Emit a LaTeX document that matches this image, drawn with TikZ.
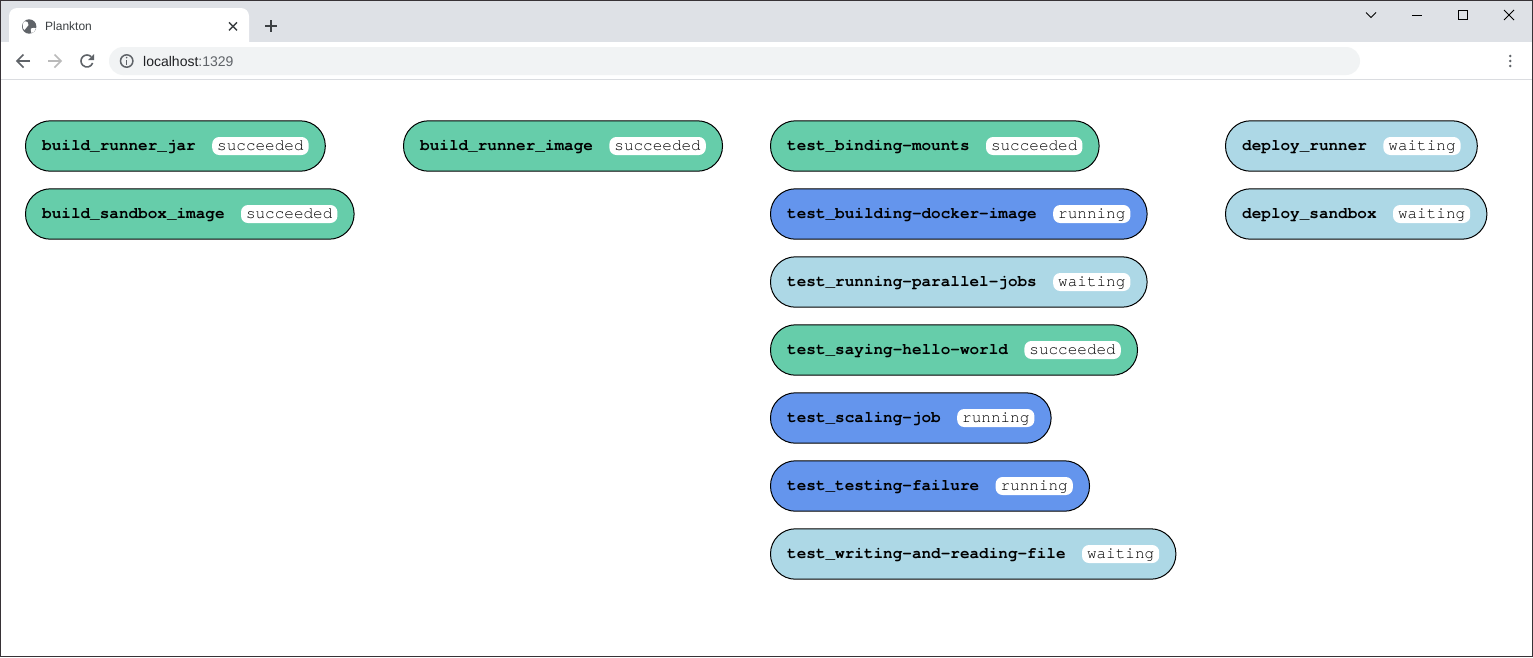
\documentclass[tikz,border=0pt]{standalone}
\usepackage{fontspec}
\newfontfamily\monofont[Ligatures=CommonOff]{TeX Gyre Cursor}
\newfontfamily\uifont{Liberation Sans}
\usetikzlibrary{fit,backgrounds}
\definecolor{jgreen}{RGB}{102,205,170}
\definecolor{jblue}{RGB}{100,149,237}
\definecolor{jlight}{RGB}{173,216,230}
\definecolor{chromebar}{RGB}{222,225,230}
\definecolor{omnibox}{RGB}{241,243,244}
\definecolor{icongray}{RGB}{95,99,104}
\definecolor{icondis}{RGB}{186,186,186}
\definecolor{tabtext}{RGB}{60,64,67}
\definecolor{urltext}{RGB}{32,33,36}
\definecolor{sepline}{RGB}{218,220,224}
\definecolor{framecol}{RGB}{55,50,54}
\tikzset{
  jobname/.style={font=\monofont\bfseries\fontsize{16}{16}\selectfont, inner sep=0pt,
    text height=11pt, text depth=3pt, anchor=base west},
  jobstatus/.style={font=\monofont\fontsize{16}{16}\selectfont, fill=white, rounded corners=7pt,
    inner xsep=5pt, inner ysep=0pt, minimum height=18pt, text height=11pt, text depth=3pt,
    anchor=base west},
  pill/.style={draw=black, line width=1pt, rounded corners=25pt, inner xsep=16.5pt, inner ysep=16pt},
  icon/.style={draw=icongray, line width=1.6pt},
  winctl/.style={draw=black, line width=1pt},
  uitext/.style={inner sep=0pt, anchor=base west},
}
\newcommand\job[6]{%
  \node[jobname] (#1n) at (#2+17,#3+4) {#4};
  \node[jobstatus] (#1s) at ([xshift=16pt]#1n.base east) {#5};
  \begin{scope}[on background layer]
    \node[pill, fill=#6, fit=(#1n)(#1s)] (#1) {};
  \end{scope}
}
\begin{document}
\begin{tikzpicture}[x=1pt,y=-1pt]
\useasboundingbox (0,0) rectangle (1533,657);
\begin{scope}[on background layer]
  % page
  \fill[white] (0,0) rectangle (1533,657);
  % title bar
  \fill[chromebar] (0,0) rectangle (1533,42);
  % tab
  \fill[white] (9,43) -- (9,16) arc[start angle=180, end angle=270, radius=8]
     -- (241,8) arc[start angle=270, end angle=360, radius=8] -- (249,43) -- cycle;
  % toolbar
  \fill[white] (0,42) rectangle (1533,79);
  \draw[sepline, line width=1pt] (0,79.5) -- (1533,79.5);
  \fill[omnibox, rounded corners=14pt] (109,47) rectangle (1360,75);
  % frame
  \draw[framecol, line width=1pt] (0.5,0.5) rectangle (1532.5,656.5);
\end{scope}

% tab contents
\fill[icongray] (29.2,26.5) circle[radius=7.2];
\fill[white] (24,21.5) .. controls (27,21) and (29,22.5) .. (28.5,25)
   .. controls (28,27) and (25.5,27.5) .. (24.5,30) .. controls (22.5,28.5) and (22,25) .. cycle;
\fill[white] (31,28.5) .. controls (33,27.5) and (35.5,27.5) .. (36,28.5)
   .. controls (35,31.5) and (33,33) .. (31.5,33) .. controls (31,31.5) and (30.5,30) .. cycle;
\node[uitext, font=\uifont\fontsize{12}{12}\selectfont, text=tabtext] (tabtitle) at (45,30.5) {Plankton};
\draw[tabtext, line width=1.4pt] (229,22.3) -- (237,30.3) (237,22.3) -- (229,30.3);
\draw[tabtext, line width=1.5pt] (265,26) -- (277,26) (271,20) -- (271,32);

% window controls
\draw[winctl] (1366,12.5) -- (1371,17.5) -- (1376,12.5);
\draw[winctl] (1412,15.5) -- (1422,15.5);
\draw[winctl] (1458.5,10.5) rectangle (1467.5,19.5);
\draw[winctl] (1504,10) -- (1514,20) (1514,10) -- (1504,20);

% navigation
\draw[icon] (30,61) -- (17,61);
\draw[icon, line join=miter] (23.5,54.5) -- (17,61) -- (23.5,67.5);
\draw[icon, draw=icondis] (48,61) -- (61,61);
\draw[icon, draw=icondis, line join=miter] (54.5,54.5) -- (61,61) -- (54.5,67.5);
\draw[icon] (87,61) ++(-45:6) arc[start angle=-45, end angle=-340, radius=6];
\fill[icongray] (88,60) -- (94,60) -- (94,54) -- cycle;
\draw[icongray, line width=1.5pt] (126.7,61) circle[radius=6.2];
\fill[icongray] (126.7,57.6) circle[radius=0.9];
\draw[icongray, line width=1.5pt] (126.7,59.8) -- (126.7,64.6);
\node[uitext, font=\uifont\fontsize{14}{14}\selectfont, text=urltext] (url) at (143,66)
  {localhost\textcolor{icongray}{:1329}};
\fill[icongray] (1510.3,56) circle[radius=1.4] (1510.3,61) circle[radius=1.4] (1510.3,66) circle[radius=1.4];

% jobs
\job{brj}{25}{146}{build\_runner\_jar}{succeeded}{jgreen}
\job{bsi}{25}{214}{build\_sandbox\_image}{succeeded}{jgreen}
\job{bri}{403}{146}{build\_runner\_image}{succeeded}{jgreen}
\job{tbm}{770}{146}{test\_binding-mounts}{succeeded}{jgreen}
\job{tbd}{770}{214}{test\_building-docker-image}{running}{jblue}
\job{trp}{770}{282}{test\_running-parallel-jobs}{waiting}{jlight}
\job{tsh}{770}{350}{test\_saying-hello-world}{succeeded}{jgreen}
\job{tsj}{770}{418}{test\_scaling-job}{running}{jblue}
\job{ttf}{770}{486}{test\_testing-failure}{running}{jblue}
\job{twr}{770}{554}{test\_writing-and-reading-file}{waiting}{jlight}
\job{dru}{1225}{146}{deploy\_runner}{waiting}{jlight}
\job{dsa}{1225}{214}{deploy\_sandbox}{waiting}{jlight}
\end{tikzpicture}
\end{document}
